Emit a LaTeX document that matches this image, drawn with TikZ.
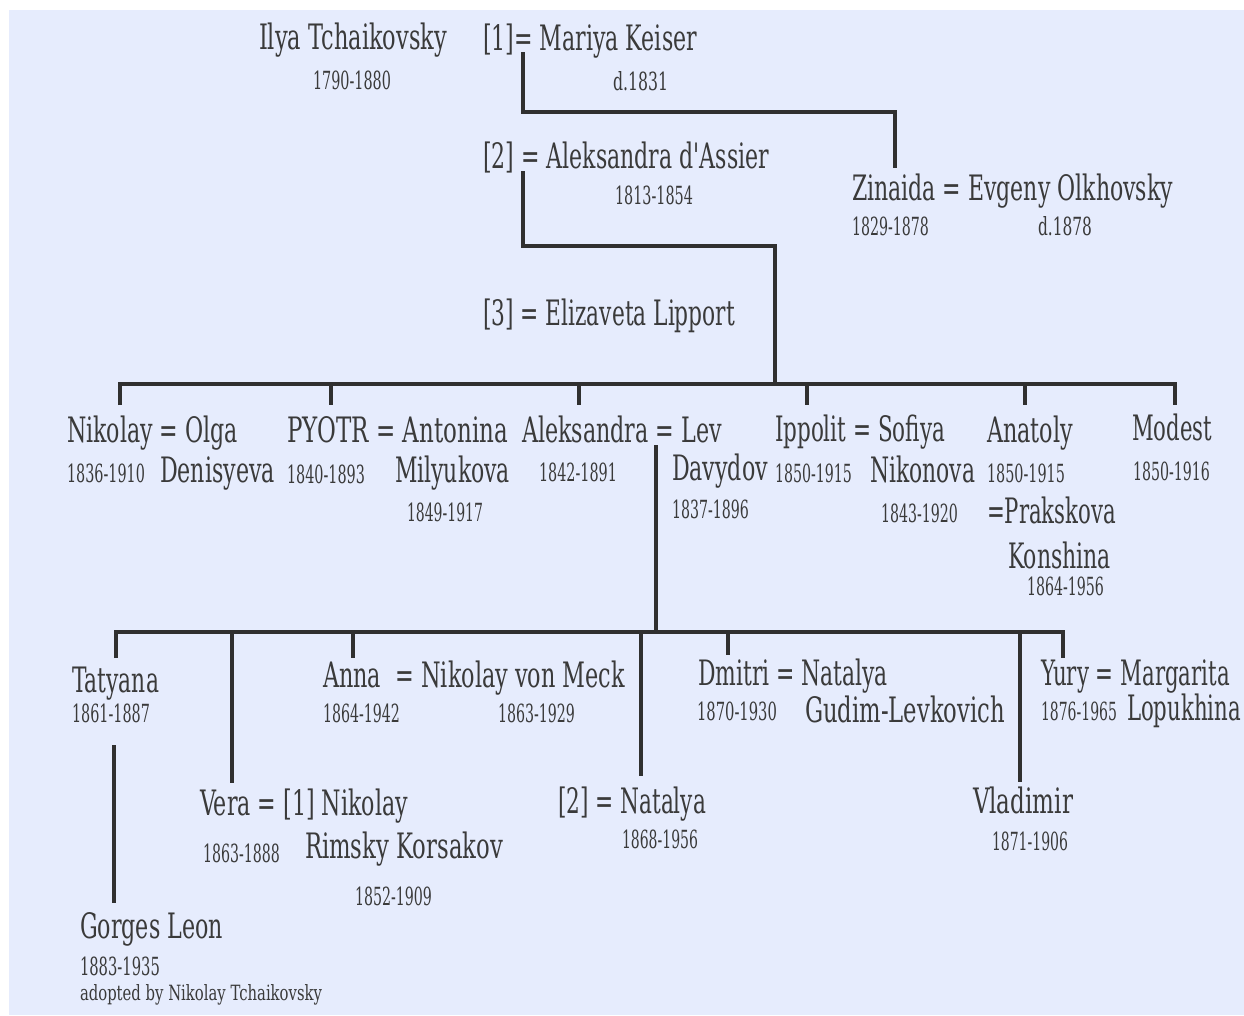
\documentclass[tikz,border=0pt]{standalone}
\usepackage{fontspec}
\setmainfont{DejaVu Serif}
\usepackage{graphicx}
\definecolor{bgblue}{RGB}{230,236,253}
\definecolor{ink}{RGB}{58,58,58}
\definecolor{linkc}{RGB}{48,48,48}
\newcommand{\fw}[2]{\resizebox{#1pt}{\height}{#2}}
\tikzset{
  nm/.style={anchor=base west, inner sep=0pt, outer sep=0pt, text=ink, font=\fontsize{35}{40}\selectfont},
  dt/.style={nm, font=\fontsize{25}{30}\selectfont},
  ad/.style={nm, font=\fontsize{21}{25}\selectfont},
  link/.style={draw=linkc, line width=4pt, line join=miter}
}
\begin{document}
\begin{tikzpicture}[x=1pt,y=1pt]
\useasboundingbox (0,0) rectangle (1244,-1015);
\fill[white] (0,0) rectangle (1244,-1015);
\fill[bgblue] (9,-10) rectangle (1244,-1015);

% generation 1
\node[nm] (ilya) at (259,-49) {\fw{188}{Ilya Tchaikovsky}};
\node[dt] (d-ilya) at (313,-89) {\fw{78}{1790-1880}};
\node[nm] (mariya) at (483,-50) {\fw{214}{[1]= Mariya Keiser}};
\node[dt] (d-mariya) at (613,-90) {\fw{55}{d.1831}};
\node[nm] (assier) at (483,-168) {\fw{286}{[2] = Aleksandra d\textquotesingle Assier}};
\node[dt] (d-assier) at (615,-204) {\fw{78}{1813-1854}};
\node[nm] (lipport) at (483,-325) {\fw{252}{[3] = Elizaveta Lipport}};
\node[nm] (zinaida) at (852,-200) {\fw{321}{Zinaida = Evgeny Olkhovsky}};
\node[dt] (d-zinaida) at (852,-235) {\fw{77}{1829-1878}};
\node[dt] (d-evgeny) at (1038,-235) {\fw{54}{d.1878}};

% generation 2
\node[nm] (nikolay) at (67,-442) {\fw{171}{Nikolay = Olga}};
\node[dt] (d-nikolay) at (67,-482) {\fw{78}{1836-1910}};
\node[nm] (denisyeva) at (160,-482) {\fw{115}{Denisyeva}};
\node[nm] (pyotr) at (287,-442) {\fw{221}{PYOTR = Antonina}};
\node[dt] (d-pyotr) at (287,-483) {\fw{78}{1840-1893}};
\node[nm] (milyukova) at (395,-482) {\fw{115}{Milyukova}};
\node[dt] (d-milyukova) at (407,-521) {\fw{76}{1849-1917}};
\node[nm] (aleksandra) at (522,-442) {\fw{200}{Aleksandra = Lev}};
\node[dt] (d-aleksandra) at (539,-481) {\fw{78}{1842-1891}};
\node[nm] (davydov) at (672,-480) {\fw{96}{Davydov}};
\node[dt] (d-davydov) at (672,-518) {\fw{77}{1837-1896}};
\node[nm] (ippolit) at (775,-441) {\fw{170}{Ippolit = Sofiya}};
\node[dt] (d-ippolit) at (775,-482) {\fw{77}{1850-1915}};
\node[nm] (nikonova) at (870,-482) {\fw{105}{Nikonova}};
\node[dt] (d-nikonova) at (881,-522) {\fw{77}{1843-1920}};
\node[nm] (anatoly) at (987,-442) {\fw{86}{Anatoly}};
\node[dt] (d-anatoly) at (987,-482) {\fw{78}{1850-1915}};
\node[nm] (prakskova) at (987,-523) {\fw{129}{=Prakskova}};
\node[nm] (konshina) at (1008,-568) {\fw{103}{Konshina}};
\node[dt] (d-konshina) at (1027,-595) {\fw{77}{1864-1956}};
\node[nm] (modest) at (1132,-440) {\fw{80}{Modest}};
\node[dt] (d-modest) at (1133,-480) {\fw{77}{1850-1916}};

% generation 3
\node[nm] (tatyana) at (72,-692) {\fw{87}{Tatyana}};
\node[dt] (d-tatyana) at (72,-722) {\fw{78}{1861-1887}};
\node[nm] (gorges) at (80,-938) {\fw{143}{Gorges Leon}};
\node[dt] (d-gorges) at (80,-975) {\fw{80}{1883-1935}};
\node[ad] (adopted) at (80,-1000) {\fw{242}{adopted by Nikolay Tchaikovsky}};
\node[nm] (anna) at (323,-687) {\fw{302}{Anna\ \ = Nikolay von Meck}};
\node[dt] (d-anna) at (323,-722) {\fw{77}{1864-1942}};
\node[dt] (d-meck) at (498,-722) {\fw{77}{1863-1929}};
\node[nm] (vera) at (200,-815) {\fw{208}{Vera = [1] Nikolay}};
\node[dt] (d-vera) at (203,-862) {\fw{77}{1863-1888}};
\node[nm] (rimsky) at (305,-858) {\fw{198}{Rimsky Korsakov}};
\node[dt] (d-rimsky) at (355,-905) {\fw{77}{1852-1909}};
\node[nm] (natalya) at (558,-813) {\fw{148}{[2] = Natalya}};
\node[dt] (d-natalya) at (622,-848) {\fw{76}{1868-1956}};
\node[nm] (dmitri) at (698,-685) {\fw{190}{Dmitri = Natalya}};
\node[dt] (d-dmitri) at (697,-720) {\fw{80}{1870-1930}};
\node[nm] (gudim) at (805,-722) {\fw{200}{Gudim-Levkovich}};
\node[nm] (yury) at (1041,-685) {\fw{189}{Yury = Margarita}};
\node[dt] (d-yury) at (1041,-720) {\fw{76}{1876-1965}};
\node[nm] (lopukhina) at (1127,-720) {\fw{114}{Lopukhina}};
\node[nm] (vladimir) at (973,-813) {\fw{100}{Vladimir}};
\node[dt] (d-vladimir) at (992,-850) {\fw{76}{1871-1906}};

% connector points
\coordinate (m-out) at (523,-52);
\coordinate (m-turn) at (895,-112);
\coordinate (z-in) at (895,-168);
\coordinate (a-out) at (523,-171);
\coordinate (a-turn) at (775,-246);
\coordinate (bar1) at (775,-384);
\coordinate (c-nik) at (120,-405);
\coordinate (c-pyo) at (331,-405);
\coordinate (c-ale) at (579,-405);
\coordinate (c-ipp) at (807,-405);
\coordinate (c-ana) at (1025,-405);
\coordinate (c-mod) at (1175,-405);
\coordinate (lev-out) at (656,-445);
\coordinate (bar2) at (656,-632);
\coordinate (c-tat) at (116,-658);
\coordinate (c-ver) at (232,-783);
\coordinate (c-ann) at (353,-658);
\coordinate (c-nat) at (641,-776);
\coordinate (c-dmi) at (728,-655);
\coordinate (c-vla) at (1020,-782);
\coordinate (c-yur) at (1063,-658);
\coordinate (t-out) at (114,-745);
\coordinate (g-in) at (114,-903);

% connectors
\draw[link] (m-out) |- (m-turn) -- (z-in);
\draw[link] (a-out) |- (a-turn) -- (bar1);
\draw[link] (c-nik) |- (bar1) -| (c-mod);
\foreach \c in {c-pyo,c-ale,c-ipp,c-ana} \draw[link] (\c |- bar1) -- (\c);
\draw[link] (lev-out) -- (bar2);
\draw[link] (c-tat) |- (bar2) -| (c-yur);
\foreach \c in {c-ver,c-ann,c-nat,c-dmi,c-vla} \draw[link] (\c |- bar2) -- (\c);
\draw[link] (t-out) -- (g-in);
\end{tikzpicture}
\end{document}
